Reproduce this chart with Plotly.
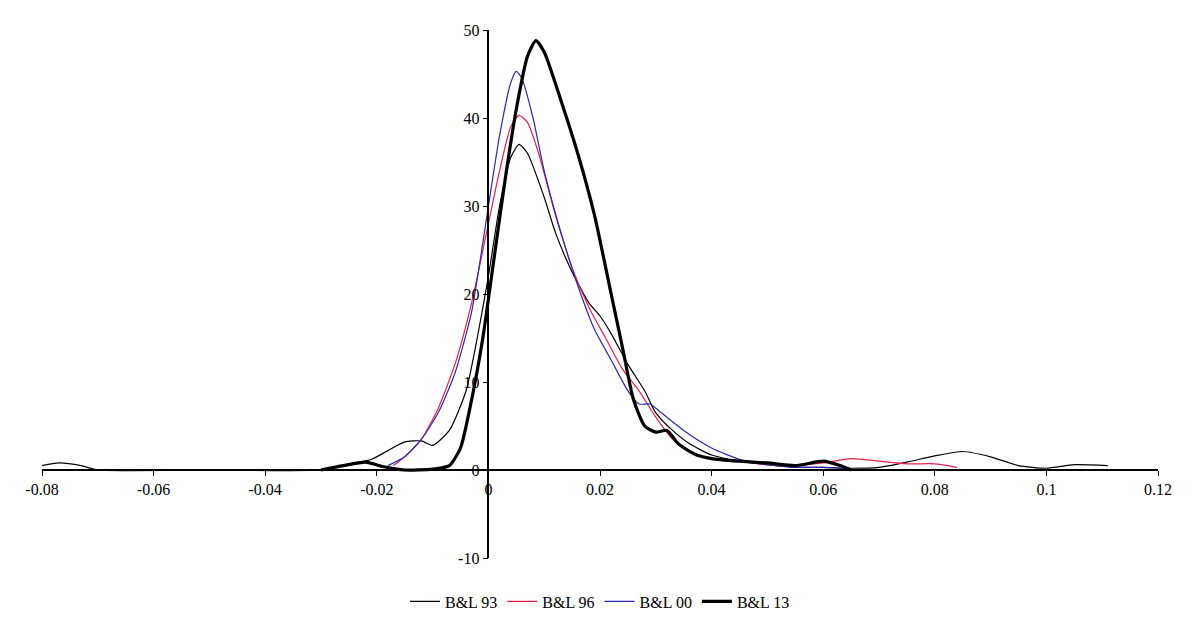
import plotly.graph_objects as go

x93 = [-0.08,-0.077,-0.073,-0.07,-0.05,-0.03,-0.027,-0.024,-0.021,-0.018,-0.015,-0.012,-0.01,-0.007,-0.004,-0.002,0,0.002,0.004,0.0055,0.007,0.01,0.012,0.015,0.018,0.02,0.022,0.025,0.028,0.03,0.033,0.036,0.04,0.045,0.05,0.055,0.06,0.065,0.07,0.075,0.08,0.085,0.09,0.095,0.1,0.105,0.111]
y93 = [0.5,0.8,0.5,0,0,0,0.4,0.8,1.2,2.2,3.2,3.3,2.8,4.5,9,15,22,30,35.5,37,36,31,27,22.5,19,17.5,15.5,12,9,6.5,4.5,3,1.7,1.0,0.6,0.3,0.3,0.2,0.3,0.9,1.6,2.1,1.5,0.5,0.2,0.6,0.5]

x96 = [-0.017,-0.015,-0.012,-0.009,-0.006,-0.003,0,0.002,0.004,0.0055,0.007,0.009,0.012,0.015,0.018,0.021,0.024,0.027,0.03,0.033,0.036,0.04,0.045,0.05,0.055,0.06,0.065,0.07,0.075,0.08,0.084]
y96 = [0.5,1.5,3.5,7,12,19,28,34,39,40.3,39.5,36,29,23,18.5,15,11.5,9,6,3.5,2,1.3,1.0,0.6,0.5,0.8,1.3,1.0,0.7,0.7,0.3]

x00 = [-0.018,-0.015,-0.012,-0.009,-0.006,-0.003,0,0.002,0.004,0.005,0.006,0.008,0.01,0.013,0.016,0.019,0.022,0.025,0.027,0.029,0.031,0.035,0.04,0.045,0.05,0.055,0.06,0.065,0.067]
y00 = [0.5,1.5,3.5,6.5,11,18,30,38,44,45.3,44.5,40,34,27,21,16,12.5,9,7.5,7.5,6.5,4.5,2.5,1.2,0.6,0.3,0.3,0.1,0]

x13 = [-0.03,-0.026,-0.022,-0.019,-0.015,-0.01,-0.007,-0.005,-0.003,-0.001,0.001,0.003,0.005,0.007,0.0085,0.01,0.013,0.016,0.019,0.022,0.024,0.026,0.028,0.03,0.032,0.034,0.037,0.04,0.045,0.05,0.055,0.06,0.063,0.065]
y13 = [0,0.5,0.9,0.4,0,0.1,0.5,2.5,8,15,24,33,41,47,48.8,47.5,42,36,29,20,14,8,5,4.3,4.5,3,1.8,1.3,1.0,0.8,0.5,1.0,0.5,0]

xticks = [-0.08,-0.06,-0.04,-0.02,0,0.02,0.04,0.06,0.08,0.1,0.12]
xticklabels = ["-0.08","-0.06","-0.04","-0.02","0","0.02","0.04","0.06","0.08","0.1","0.12"]
yticks = [-10,0,10,20,30,40,50]
yticklabels = ["-10","0","10","20","30","40","50"]

fig = go.Figure()
for name, xs, ys, col, w in [("B&L 93", x93, y93, "black", 1.2), ("B&L 96", x96, y96, "#e8204a", 1.2),
                             ("B&L 00", x00, y00, "#2a2ab0", 1.2), ("B&L 13", x13, y13, "black", 3.2)]:
    fig.add_trace(go.Scatter(x=xs, y=ys, name=name, mode="lines",
                             line=dict(color=col, width=w, shape="spline", smoothing=0.6)))

fig.update_layout(
    width=1197, height=623, paper_bgcolor="white", plot_bgcolor="white",
    margin=dict(l=34, r=47, t=22, b=73),
    font=dict(family="Liberation Serif", size=16, color="black"),
    legend=dict(orientation="h", x=0.5, xanchor="center", y=-0.05, yanchor="top", font=dict(size=16)),
    xaxis=dict(range=[-0.08, 0.12], tickvals=xticks, ticktext=xticklabels,
               anchor="free", position=10/60, showline=True, linecolor="black", linewidth=1.5,
               ticks="outside", ticklen=5, tickcolor="black", showgrid=False, zeroline=False),
    yaxis=dict(range=[-10, 50], tickvals=yticks, ticktext=yticklabels, anchor="free", position=0.4,
               showline=True, linecolor="black", linewidth=1.5, ticks="outside", ticklen=5,
               tickcolor="black", showgrid=False, zeroline=False),
)
fig.write_html("out.html")
